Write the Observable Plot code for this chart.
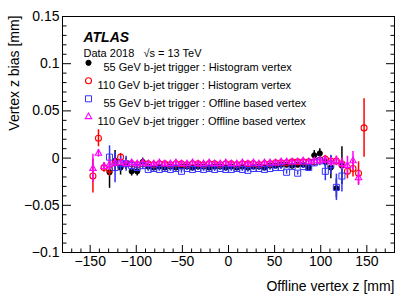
<!DOCTYPE html>
<html><head><meta charset="utf-8">
<script src="https://cdn.jsdelivr.net/npm/d3@7"></script>
<script src="https://cdn.jsdelivr.net/npm/@observablehq/plot@0.6"></script>
<style>body{margin:0;background:#fff;} svg{display:block;}</style>
</head><body><div id="chart"></div>
<script>
// Bin centres of offline vertex z [mm]
const zBins = [-147,-141,-135,-129,-123,-117,-111,-105,-99,-93,
  -87,-81,-75,-69,-63,-57,-51,-45,-39,-33,
  -27,-21,-15,-9,-3,3,9,15,21,27,
  33,39,45,51,57,63,69,75,81,87,
  93,99,105,111,117,123,129,135,141,147];

// 55 GeV b-jet trigger : Histogram vertex
const hist55 = [null,null,null,-0.015,-0.003,-0.010,-0.006,-0.014,-0.014,-0.004,
  -0.009,-0.010,-0.009,-0.010,-0.009,-0.010,-0.009,-0.009,-0.010,-0.009,
  -0.009,-0.010,-0.009,-0.009,-0.010,-0.009,-0.010,-0.009,-0.010,-0.009,
  -0.009,-0.010,-0.008,-0.008,-0.007,-0.007,-0.008,-0.007,-0.007,-0.010,
  0.003,0.005,-0.004,-0.010,-0.032,-0.008,null,null,null,null];
const hist55Err = [null,null,null,0.017,0.011,0.008,0.006,0.005,0.005,0.004,
  0.002,0.002,0.002,0.002,0.002,0.002,0.002,0.002,0.002,0.002,
  0.002,0.002,0.002,0.002,0.002,0.002,0.002,0.002,0.002,0.002,
  0.002,0.002,0.002,0.002,0.002,0.002,0.002,0.002,0.003,0.003,
  0.005,0.005,0.006,0.012,0.010,0.020,null,null,null,null];

// 110 GeV b-jet trigger : Histogram vertex
const hist110 = [-0.019,0.021,-0.010,-0.012,-0.005,0.001,-0.006,-0.006,-0.007,-0.006,
  -0.006,-0.007,-0.006,-0.006,-0.007,-0.006,-0.006,-0.007,-0.006,-0.006,
  -0.007,-0.006,-0.006,-0.007,-0.006,-0.006,-0.007,-0.006,-0.006,-0.006,
  -0.007,-0.006,-0.006,-0.005,-0.005,-0.005,-0.004,-0.004,-0.004,-0.004,
  -0.004,-0.002,-0.001,-0.003,-0.003,-0.006,-0.014,-0.011,-0.016,0.032];
const hist110Err = [0.018,0.009,0.005,0.007,0.005,0.004,0.003,0.003,0.003,0.003,
  0.002,0.002,0.002,0.002,0.002,0.002,0.002,0.002,0.002,0.002,
  0.002,0.002,0.002,0.002,0.002,0.002,0.002,0.002,0.002,0.002,
  0.002,0.002,0.002,0.002,0.002,0.002,0.002,0.002,0.002,0.003,
  0.003,0.004,0.004,0.005,0.005,0.006,0.008,0.009,0.012,0.031];

// 55 GeV b-jet trigger : Offline based vertex
const off55 = [null,null,null,0.001,-0.010,-0.006,-0.006,-0.008,-0.010,-0.008,
  -0.012,-0.011,-0.012,-0.011,-0.012,-0.011,-0.014,-0.011,-0.012,-0.011,
  -0.012,-0.011,-0.012,-0.011,-0.012,-0.012,-0.011,-0.012,-0.013,-0.011,
  -0.011,-0.012,-0.011,-0.010,-0.010,-0.015,-0.009,-0.016,-0.009,-0.010,
  -0.005,-0.003,-0.014,-0.007,-0.031,-0.019,null,null,null,null];
const off55Err = [null,null,null,0.012,0.016,0.008,0.008,0.005,0.004,0.004,
  0.002,0.002,0.002,0.002,0.002,0.002,0.002,0.002,0.002,0.002,
  0.002,0.002,0.002,0.002,0.002,0.002,0.002,0.002,0.002,0.002,
  0.002,0.002,0.002,0.002,0.002,0.002,0.002,0.002,0.002,0.003,
  0.004,0.005,0.010,0.010,0.014,0.017,null,null,null,null];

// 110 GeV b-jet trigger : Offline based vertex
const off110 = [-0.011,0.005,-0.009,-0.007,-0.005,-0.005,-0.006,-0.005,-0.006,-0.005,
  -0.006,-0.006,-0.005,-0.006,-0.006,-0.005,-0.006,-0.006,-0.005,-0.006,
  -0.006,-0.005,-0.006,-0.006,-0.005,-0.006,-0.006,-0.005,-0.006,-0.005,
  -0.006,-0.005,-0.005,-0.005,-0.004,-0.004,-0.004,-0.004,-0.003,-0.004,
  -0.003,-0.003,-0.002,-0.004,-0.003,-0.006,-0.008,-0.003,-0.021,null];
const off110Err = [0.015,0.004,0.004,0.006,0.004,0.003,0.003,0.003,0.003,0.003,
  0.002,0.002,0.002,0.002,0.002,0.002,0.002,0.002,0.002,0.002,
  0.002,0.002,0.002,0.002,0.002,0.002,0.002,0.002,0.002,0.002,
  0.002,0.002,0.002,0.002,0.002,0.002,0.002,0.002,0.002,0.003,
  0.003,0.004,0.004,0.005,0.005,0.006,0.010,0.010,0.008,null];

const legendLabels = [
  "55 GeV b-jet trigger : Histogram vertex",
  "110 GeV b-jet trigger : Histogram vertex",
  "55 GeV b-jet trigger : Offline based vertex",
  "110 GeV b-jet trigger : Offline based vertex"
];

const yMajorTicks = [-0.1,-0.05,0,0.05,0.1,0.15];
const yMinorTicks = [-0.09,-0.08,-0.07,-0.06,-0.04,-0.03,-0.02,-0.01,0.01,0.02,0.03,0.04,0.06,0.07,0.08,0.09,0.11,0.12,0.13,0.14];
const xMajorTicks = [-150,-100,-50,0,50,100,150];
const xMinorTicks = [-170,-160,-140,-130,-120,-110,-90,-80,-70,-60,-40,-30,-20,-10,10,20,30,40,60,70,80,90,110,120,130,140,160,170];

// styles
const styles = [
  {vals: hist55, errs: hist55Err, symbol: "circle", r: 2.6, fill: "#000", stroke: "#000", sw: 1},
  {vals: hist110, errs: hist110Err, symbol: "circle", r: 3, fill: "none", stroke: "#ff0000", sw: 1.1},
  {vals: off55, errs: off55Err, symbol: "square", r: 3.4, fill: "none", stroke: "#3333ff", sw: 1},
  {vals: off110, errs: off110Err, symbol: "triangle", r: 2.4, fill: "none", stroke: "#ff00ff", sw: 1.1}
];
const legendTextDx = [41, 35, 41, 35];

const fmt = d => d === 0 ? "0" : (d < 0 ? "\u2212" : "") + String(Math.abs(d));

const marks = [];
styles.forEach((s) => {
  const rows = zBins.map((z, i) => ({z, v: s.vals[i], e: s.errs[i]})).filter(d => d.v != null);
  marks.push(Plot.ruleX(rows, {x: "z", y1: d => d.v - d.e, y2: d => d.v + d.e, stroke: s.stroke, strokeWidth: 1.5}));
  marks.push(Plot.dot(rows, {x: "z", y: "v", symbol: s.symbol, r: s.r, fill: s.fill, stroke: s.stroke, strokeWidth: s.sw}));
});

// legend
styles.forEach((s, i) => {
  const dy = 46.3 + 18 * i;
  marks.push(Plot.dot([0], {frameAnchor: "top-left", dx: 26, dy, symbol: s.symbol, r: s.r, fill: s.fill, stroke: s.stroke, strokeWidth: s.sw}));
  marks.push(Plot.text([legendLabels[i]], {frameAnchor: "top-left", dx: legendTextDx[i], dy, textAnchor: "start", fontSize: 11, fill: "#000"}));
});

marks.push(
  Plot.text(["ATLAS"], {frameAnchor: "top-left", dx: 21, dy: 15.5, textAnchor: "start", fontSize: 14, fontWeight: "bold", fontStyle: "italic", fill: "#000"}),
  Plot.text(["Data 2018\u00a0\u00a0 \u221As = 13 TeV"], {frameAnchor: "top-left", dx: 21, dy: 32.5, textAnchor: "start", fontSize: 11, fill: "#000"}),
  // axes
  Plot.axisY(yMajorTicks, {anchor: "left", tickSize: -9, tickFormat: () => "", label: null}),
  Plot.axisY(yMinorTicks, {anchor: "left", tickSize: -4.5, tickFormat: () => "", label: null}),
  Plot.axisY(yMajorTicks, {anchor: "right", tickSize: -9, tickFormat: () => "", label: null}),
  Plot.axisY(yMinorTicks, {anchor: "right", tickSize: -4.5, tickFormat: () => "", label: null}),
  Plot.axisY(yMajorTicks, {anchor: "left", tickSize: 0, tickPadding: 3, tickFormat: fmt, fontSize: 14, label: null}),
  Plot.axisX(xMajorTicks, {anchor: "bottom", tickSize: -7, tickFormat: () => "", label: null}),
  Plot.axisX(xMinorTicks, {anchor: "bottom", tickSize: -3.5, tickFormat: () => "", label: null}),
  Plot.axisX(xMajorTicks, {anchor: "bottom", tickSize: 0, tickPadding: 4, tickFormat: fmt, fontSize: 14, label: null}),
  Plot.text(["Vertex z bias [mm]"], {frameAnchor: "top-left", rotate: -90, textAnchor: "end", dx: -53, dy: -1, fontSize: 14, fill: "#000"}),
  Plot.text(["Offline vertex z [mm]"], {frameAnchor: "bottom-right", textAnchor: "end", dx: 0, dy: 38.5, fontSize: 14, fill: "#000"}),
  Plot.frame({stroke: "#000", strokeWidth: 1})
);

const chart = Plot.plot({
  width: 415, height: 298,
  marginLeft: 62, marginRight: 21, marginTop: 16, marginBottom: 46,
  style: {fontFamily: "'Liberation Sans', Arial, Helvetica, sans-serif", fontSize: "14px", color: "#000", background: "#fff"},
  x: {domain: [-180, 180]},
  y: {domain: [-0.1, 0.15]},
  marks
});
document.getElementById("chart").appendChild(chart);
</script>
</body></html>
